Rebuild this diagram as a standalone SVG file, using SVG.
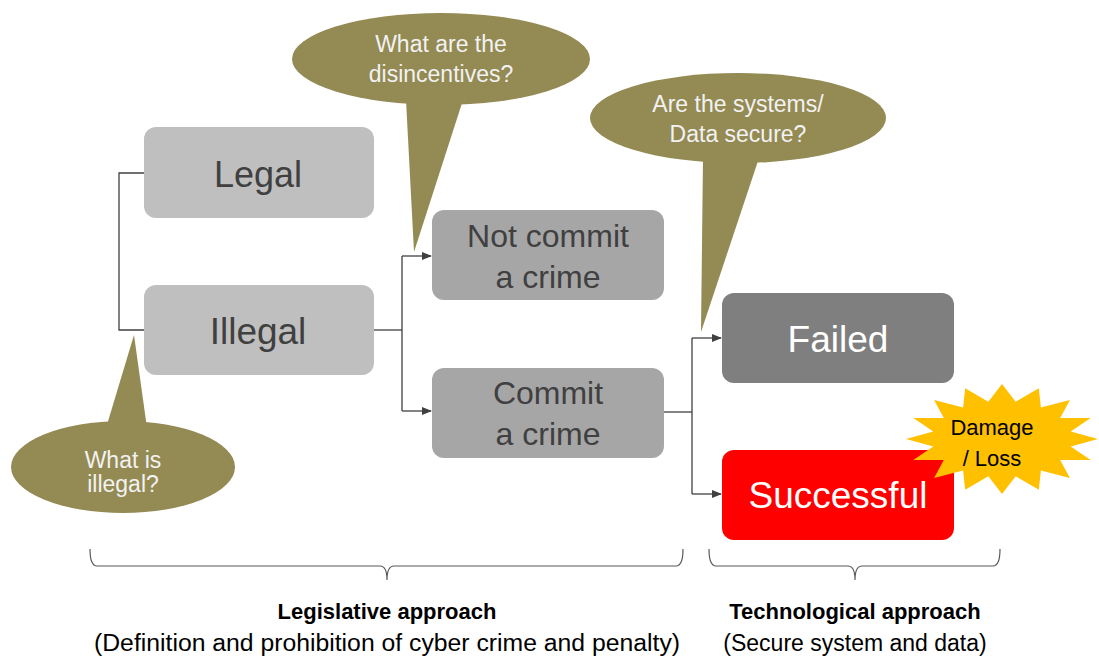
<svg xmlns="http://www.w3.org/2000/svg" width="1099" height="657" viewBox="0 0 1099 657">
<style>
text{font-family:"Liberation Sans",Arial,sans-serif;text-anchor:middle}
.box-a{fill:#bfbfbf}
.box-b{fill:#a6a6a6}
.dark{fill:#404040}
.white{fill:#ffffff}
.call{fill:#948a54}
.ctext{fill:#f2f2f2;font-size:23px}
.conn{fill:none;stroke:#404040;stroke-width:1.3}
.brace{fill:none;stroke:#595959;stroke-width:1.2}
</style>
<defs>
<marker id="arr" markerUnits="userSpaceOnUse" markerWidth="10" markerHeight="8" refX="9" refY="4" orient="auto">
<path d="M0,0 L10,4 L0,8 Z" fill="#404040"/>
</marker>
</defs>
<rect width="1099" height="657" fill="#ffffff"/>

<g id="connectors">
<path class="conn" d="M144,173 H119 V330 H144"/>
<path class="conn" d="M374,330 H402"/>
<path class="conn" d="M402,256 V411"/>
<path class="conn" d="M402,256 H431" marker-end="url(#arr)"/>
<path class="conn" d="M402,411 H431" marker-end="url(#arr)"/>
<path class="conn" d="M664,412 H692"/>
<path class="conn" d="M692,338 V494"/>
<path class="conn" d="M692,338 H721" marker-end="url(#arr)"/>
<path class="conn" d="M692,494 H721" marker-end="url(#arr)"/>
</g>

<g id="legal">
<rect class="box-a" x="144" y="127" width="230" height="91" rx="12"/>
<text class="dark" x="258" y="187" font-size="36">Legal</text>
</g>
<g id="illegal">
<rect class="box-a" x="144" y="285" width="230" height="90" rx="12"/>
<text class="dark" x="258" y="344" font-size="37">Illegal</text>
</g>
<g id="not-commit">
<rect class="box-b" x="432" y="210" width="232" height="90" rx="12"/>
<text class="dark" x="548" y="247" font-size="32">Not commit</text>
<text class="dark" x="548" y="288" font-size="32">a crime</text>
</g>
<g id="commit">
<rect class="box-b" x="432" y="368" width="232" height="90" rx="12"/>
<text class="dark" x="548" y="404" font-size="32">Commit</text>
<text class="dark" x="548" y="445" font-size="32">a crime</text>
</g>
<g id="failed">
<rect fill="#7f7f7f" x="722" y="293" width="232" height="90" rx="12"/>
<text class="white" x="838" y="352" font-size="37">Failed</text>
</g>
<g id="successful">
<rect fill="#ff0000" x="722" y="450" width="232" height="90" rx="12"/>
<text class="white" x="838" y="508" font-size="37">Successful</text>
</g>

<g id="damage-loss">
<polygon fill="#ffc000" points="1098,439 1070.7,446.4 1090.7,460.1 1060.2,460.1 1069.9,477.9 1040.9,470.6 1038.8,489.8 1015.7,476.3 1002,494 988.3,476.3 965.2,489.8 963.1,470.6 934.1,477.9 943.8,460.1 913.3,460.1 933.3,446.4 906,439 933.3,431.6 913.3,417.9 943.8,417.9 934.1,400.1 963.1,407.4 965.2,388.2 988.3,401.7 1002,384 1015.7,401.7 1038.8,388.2 1040.9,407.4 1069.9,400.1 1060.2,417.9 1090.7,417.9 1070.7,431.6"/>
<text x="992" y="435" font-size="22" fill="#000000">Damage</text>
<text x="992" y="466" font-size="22" fill="#000000">/ Loss</text>
</g>

<g id="callout-disincentives">
<ellipse class="call" cx="441" cy="59" rx="149" ry="46"/>
<polygon class="call" points="406,100 463,100 414,252"/>
<text class="ctext" x="441" y="52">What are the</text>
<text class="ctext" x="441" y="82">disincentives?</text>
</g>
<g id="callout-secure">
<ellipse class="call" cx="738" cy="118" rx="148" ry="45"/>
<polygon class="call" points="703,158 759,158 701,332"/>
<text class="ctext" x="738" y="112">Are the systems/</text>
<text class="ctext" x="738" y="142">Data secure?</text>
</g>
<g id="callout-illegal">
<ellipse class="call" cx="123" cy="467" rx="112" ry="46"/>
<polygon class="call" points="106,428 147,428 134,335"/>
<text class="ctext" x="123" y="468">What is</text>
<text class="ctext" x="123" y="492">illegal?</text>
</g>

<g id="legislative">
<path class="brace" d="M90,549 Q90,566 97,566 L380,566 Q387,566 387,580 Q387,566 394,566 L676,566 Q683,566 683,549"/>
<text x="387" y="619" font-size="22" font-weight="bold" fill="#000000">Legislative approach</text>
<text x="387" y="651" font-size="23" fill="#000000" textLength="586" lengthAdjust="spacingAndGlyphs">(Definition and prohibition of cyber crime and penalty)</text>
</g>
<g id="technological">
<path class="brace" d="M709,549 Q709,566 716,566 L848,566 Q855,566 855,580 Q855,566 862,566 L993,566 Q1000,566 1000,549"/>
<text x="855" y="619" font-size="22" font-weight="bold" fill="#000000">Technological approach</text>
<text x="855" y="651" font-size="23" fill="#000000">(Secure system and data)</text>
</g>
</svg>
